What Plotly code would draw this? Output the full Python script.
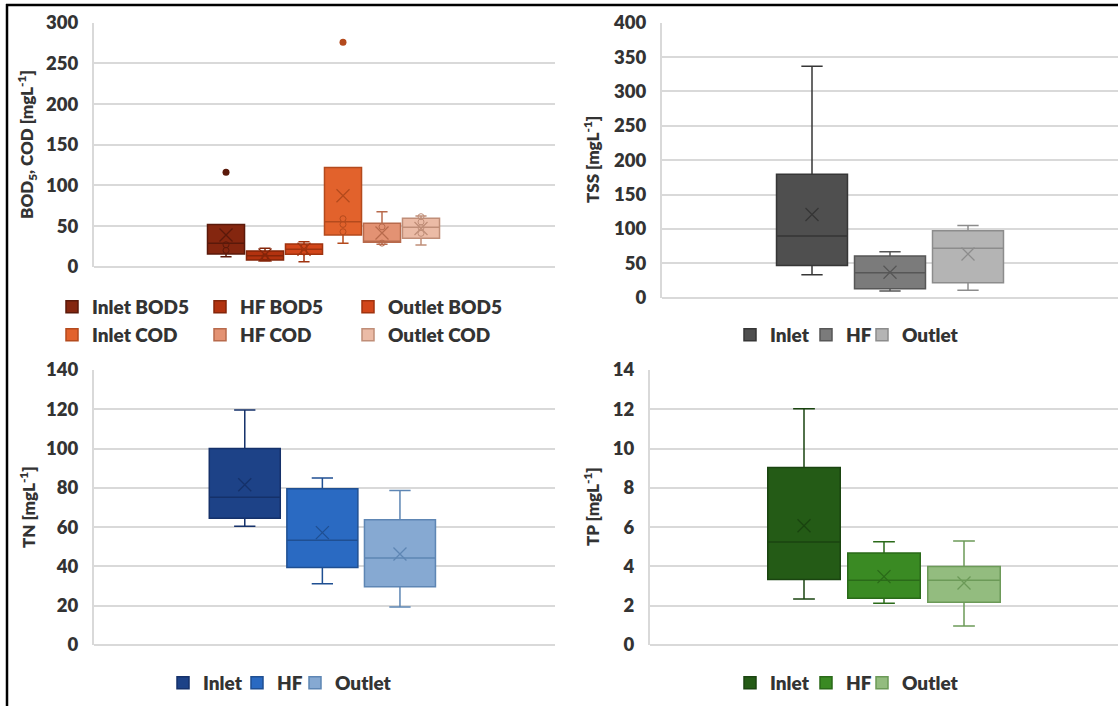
import plotly.graph_objects as go

W, H = 1118, 706

# ---------------- BOD5 / COD (mg/L) ----------------
bod_names = ["Inlet BOD5", "HF BOD5", "Outlet BOD5", "Inlet COD", "HF COD", "Outlet COD"]
bod_q1 = [15.6, 8.2, 15.2, 39.0, 30.0, 35.0]
bod_median = [28.7, 13.5, 21.4, 55.3, 31.0, 48.4]
bod_q3 = [52.0, 19.3, 27.9, 122.0, 53.3, 59.5]
bod_low = [12.3, 7.0, 6.2, 28.7, 27.5, 26.7]
bod_high = [52.0, 22.6, 30.7, 122.0, 67.6, 62.3]
bod_mean = [39.0, 14.4, 21.5, 87.3, 41.5, 47.0]
bod_inner = [[27, 20], [12], [24, 18], [59, 52, 43], [49, 29], [61.5, 55, 48, 41]]
bod_outliers = [[116], [], [], [276], [], []]

# ---------------- TSS (mg/L) ----------------
tss_names = ["Inlet", "HF", "Outlet"]
tss_q1 = [47.0, 13.0, 21.8]
tss_median = [89.7, 36.4, 71.8]
tss_q3 = [179.4, 60.6, 97.5]
tss_low = [33.5, 9.7, 11.0]
tss_high = [336.5, 67.0, 105.0]
tss_mean = [121.0, 37.0, 63.5]

# ---------------- TN (mg/L) ----------------
tn_names = ["Inlet", "HF", "Outlet"]
tn_q1 = [64.5, 39.4, 29.7]
tn_median = [75.2, 53.3, 44.3]
tn_q3 = [100.0, 79.6, 63.8]
tn_low = [60.4, 31.2, 19.3]
tn_high = [119.6, 85.0, 78.7]
tn_mean = [81.6, 57.2, 46.3]

# ---------------- TP (mg/L) ----------------
tp_names = ["Inlet", "HF", "Outlet"]
tp_q1 = [3.34, 2.38, 2.17]
tp_median = [5.24, 3.29, 3.29]
tp_q3 = [9.04, 4.68, 4.0]
tp_low = [2.34, 2.12, 0.97]
tp_high = [12.03, 5.26, 5.29]
tp_mean = [6.07, 3.48, 3.16]

# fill / outline colours per series
bod_fill = ["#84260f", "#b2320f", "#d2461a", "#e2622c", "#e39273", "#ebbba6"]
bod_line = ["#5a190a", "#842509", "#a0330f", "#b44a1d", "#b86a4c", "#c08e78"]
tss_fill = ["#4f4f4f", "#7b7b7b", "#b4b4b4"]
tss_line = ["#363636", "#575757", "#8c8c8c"]
tn_fill = ["#1d4287", "#2a6ac2", "#86a9d2"]
tn_line = ["#15316a", "#1f4f92", "#5e86b4"]
tp_fill = ["#245b16", "#3a8a23", "#93bc7f"]
tp_line = ["#1a4410", "#2a6a19", "#6c9a58"]

FONT = "Lato"
WEIGHT = 800
TXT = "#333333"
GRID = "#d9d9d9"


def px_x(v):
    return v / W


def px_y(v):
    return 1 - v / H


fig = go.Figure()


def add_panel(n, names, q1, med, q3, lo, hi, mean, fills, lines, legends,
              widths, inner=None, outliers=None):
    xa = "x" if n == 1 else f"x{n}"
    ya = "y" if n == 1 else f"y{n}"
    for i, name in enumerate(names):
        fig.add_trace(go.Box(
            x=[name], q1=[q1[i]], median=[med[i]], q3=[q3[i]],
            lowerfence=[lo[i]], upperfence=[hi[i]],
            name=name, fillcolor=fills[i],
            line=dict(color=lines[i], width=1.5),
            width=widths, whiskerwidth=0.3, boxpoints=False,
            xaxis=xa, yaxis=ya, legend=legends[i][0],
            legendwidth=legends[i][1], hoverinfo="skip",
        ))
        if inner is not None and inner[i]:
            fig.add_trace(go.Scatter(
                x=[name] * len(inner[i]), y=inner[i], mode="markers",
                marker=dict(symbol="circle-open", size=6, color=lines[i],
                            line=dict(color=lines[i], width=1)),
                showlegend=False, xaxis=xa, yaxis=ya, hoverinfo="skip",
            ))
        if outliers is not None and outliers[i]:
            fig.add_trace(go.Scatter(
                x=[name] * len(outliers[i]), y=outliers[i], mode="markers",
                marker=dict(symbol="circle", size=7, color=lines[i]),
                showlegend=False, xaxis=xa, yaxis=ya, hoverinfo="skip",
            ))
        fig.add_trace(go.Scatter(
            x=[name], y=[mean[i]], mode="markers",
            marker=dict(symbol="x-thin", size=13, color=lines[i],
                        line=dict(color=lines[i], width=1.3)),
            showlegend=False, xaxis=xa, yaxis=ya, hoverinfo="skip",
        ))


add_panel(1, bod_names, bod_q1, bod_median, bod_q3, bod_low, bod_high, bod_mean,
          bod_fill, bod_line,
          [("legend", 103), ("legend", 103), ("legend", 0),
           ("legend2", 103), ("legend2", 103), ("legend2", 0)],
          0.95, inner=bod_inner, outliers=bod_outliers)
add_panel(2, tss_names, tss_q1, tss_median, tss_q3, tss_low, tss_high, tss_mean,
          tss_fill, tss_line,
          [("legend3", 31), ("legend3", 11), ("legend3", 0)], 0.91)
add_panel(3, tn_names, tn_q1, tn_median, tn_q3, tn_low, tn_high, tn_mean,
          tn_fill, tn_line,
          [("legend4", 29), ("legend4", 13), ("legend4", 0)], 0.915)
add_panel(4, tp_names, tp_q1, tp_median, tp_q3, tp_low, tp_high, tp_mean,
          tp_fill, tp_line,
          [("legend5", 31), ("legend5", 11), ("legend5", 0)], 0.906)

# plot areas (pixel boxes) and axis settings
panels = {
    1: dict(xd=(94, 555), yd=(22.7, 266.7), xr=[-3.385, 8.436], yr=[0, 300], dt=50, cats=bod_names),
    2: dict(xd=(662, 1118), yd=(22.7, 297.7), xr=[-1.923, 3.923], yr=[0, 400], dt=50, cats=tss_names),
    3: dict(xd=(94, 555), yd=(370, 645), xr=[-1.943, 3.998], yr=[0, 140], dt=20, cats=tn_names),
    4: dict(xd=(650, 1118), yd=(370, 645), xr=[-1.925, 3.925], yr=[0, 14], dt=2, cats=tp_names),
}

layout = dict(
    width=W, height=H,
    margin=dict(l=0, r=0, t=0, b=0, autoexpand=False),
    paper_bgcolor="white", plot_bgcolor="white",
    showlegend=True,
    font=dict(family=FONT, size=17, color=TXT, weight=WEIGHT),
)

for n, p in panels.items():
    sx = "" if n == 1 else str(n)
    layout[f"xaxis{sx}"] = dict(
        domain=[px_x(p["xd"][0]), px_x(p["xd"][1])],
        anchor=f"y{sx}", type="category",
        categoryorder="array", categoryarray=p["cats"],
        range=p["xr"], showticklabels=False, showgrid=False,
        zeroline=False, showline=False, ticks="", fixedrange=True,
        automargin=False,
    )
    layout[f"yaxis{sx}"] = dict(
        domain=[px_y(p["yd"][1]), px_y(p["yd"][0])],
        anchor=f"x{sx}", range=p["yr"], dtick=p["dt"], tick0=0,
        showgrid=True, gridcolor=GRID, gridwidth=2,
        zeroline=True, zerolinecolor=GRID, zerolinewidth=2,
        showline=True, linecolor=GRID, linewidth=2,
        ticks="", ticklabelstandoff=10,
        tickfont=dict(family=FONT, size=18.5, color=TXT, weight=WEIGHT),
        fixedrange=True, automargin=False,
    )

leg_font = dict(family=FONT, size=19, color=TXT, weight=WEIGHT)


def legend_at(x_text, y_center):
    return dict(
        orientation="h", x=px_x(x_text - 40), y=px_y(y_center),
        xanchor="left", yanchor="middle", font=leg_font,
        bgcolor="rgba(0,0,0,0)", borderwidth=0, tracegroupgap=0,
        itemclick=False, itemdoubleclick=False,
    )


layout["legend"] = legend_at(92, 307)
layout["legend2"] = legend_at(92, 335)
layout["legend3"] = legend_at(770, 335)
layout["legend4"] = legend_at(203, 683)
layout["legend5"] = legend_at(770, 683)

title_font = dict(family=FONT, size=17, color=TXT, weight=WEIGHT)
titles = [
    ("BOD<sub>5</sub>, COD [mgL<sup>-1</sup>]", 27, 145),
    ("TSS [mgL<sup>-1</sup>]", 591, 160),
    ("TN [mgL<sup>-1</sup>]", 27, 507),
    ("TP [mgL<sup>-1</sup>]", 591, 507),
]
layout["annotations"] = [
    dict(text=t, x=px_x(x), y=px_y(y), xref="paper", yref="paper",
         xanchor="center", yanchor="middle", textangle=-90,
         showarrow=False, font=title_font)
    for t, x, y in titles
]

# frame lines along the top and left edges
layout["shapes"] = [
    dict(type="line", xref="paper", yref="paper", x0=px_x(6), x1=1,
         y0=px_y(5), y1=px_y(5), line=dict(color="black", width=2.5)),
    dict(type="line", xref="paper", yref="paper", x0=px_x(7), x1=px_x(7),
         y0=px_y(4), y1=0, line=dict(color="black", width=2.5)),
]

fig.update_layout(**layout)
fig.write_html("out.html")
